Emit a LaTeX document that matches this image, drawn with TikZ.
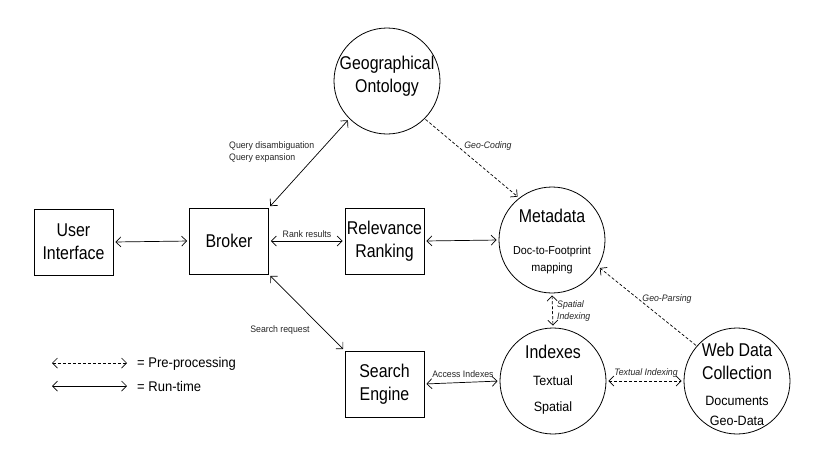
\documentclass[tikz,border=0pt]{standalone}
\usepackage{fontspec}
\setmainfont{Liberation Sans}
\newfontfamily\bigfam[FakeStretch=0.86]{Liberation Sans}
\newfontfamily\smallfam[FakeStretch=0.93]{Liberation Sans}
\usetikzlibrary{arrows.meta}
\begin{document}
\begin{tikzpicture}[x=1pt,y=-1pt,
  box/.style={draw, line width=0.8pt, minimum width=79pt, minimum height=66pt, inner sep=0pt, align=center, font=\bigfam\fontsize{18.5}{23}\selectfont},
  circ/.style={draw, line width=0.8pt, circle, minimum size=106pt, inner sep=0pt},
  big/.style={inner sep=0pt, align=center, font=\bigfam\fontsize{18.5}{23}\selectfont},
  mid/.style={inner sep=0pt, align=center, font=\smallfam\fontsize{13.5}{20}\selectfont},
  small/.style={inner sep=0pt, align=center, font=\smallfam\fontsize{11.6}{17}\selectfont},
  lab/.style={inner sep=0pt, font=\smallfam\fontsize{9.4}{12}\selectfont, text=black!85},
  ilab/.style={lab, font=\smallfam\fontsize{9.4}{12}\selectfont\itshape},
  run/.style={line width=0.7pt, {Straight Barb[length=5pt,width=10pt]}-{Straight Barb[length=5pt,width=10pt]}, shorten >=2pt, shorten <=2pt},
  pre/.style={run, dashed, dash pattern=on 3pt off 2pt},
  pre1/.style={line width=0.7pt, -{Straight Barb[length=5pt,width=10pt]}, dashed, dash pattern=on 3pt off 2pt, shorten >=2pt, shorten <=1pt},
]
\useasboundingbox (0,0) rectangle (822,467);

% boxes
\node[box] (ui) at (73.5,242) {User\\Interface};
\node[box] (broker) at (229,241) {Broker};
\node[box] (rank) at (384.5,241) {Relevance\\Ranking};
\node[box] (search) at (384.5,384) {Search\\Engine};

% circles
\node[circ] (onto) at (387,81) {};
\node[circ] (meta) at (552,240) {};
\node[circ] (idx) at (553,381) {};
\node[circ] (web) at (737,381) {};

% circle texts
\node[big] (ontot) at (387,76.5) {Geographical\\Ontology};
\node[big] (metat) at (552,216) {Metadata};
\node[small] (metas) at (552,259.5) {Doc-to-Footprint\\mapping};
\node[big] (idxt) at (553,352) {Indexes};
\node[mid] (idxs1) at (553,381) {Textual};
\node[mid] (idxs2) at (553,408) {Spatial};
\node[big] (webt) at (737,361.5) {Web Data\\Collection};
\node[mid] (webs) at (737,411) {Documents\\Geo-Data};

% run-time connectors
\draw[run] (ui.east) -- (broker.west);
\draw[run] (broker.east) -- (rank.west);
\draw[run] (rank.east) -- (meta.west);
\draw[run] (search.east) -- (idx.west);
\draw[run] (broker.north east) -- (onto.225);
\draw[run] (broker.south east) -- (search.north west);

% pre-processing connectors
\draw[pre1] (onto.-45) -- (meta.128);
\draw[pre1] (web.139) -- (meta.-30);
\draw[pre] (meta.south) -- (idx.north);
\draw[pre] (idx.east) -- (web.west);

% labels
\node[lab, anchor=west, align=left] (qlab) at (229,152) {Query disambiguation\\Query expansion};
\node[ilab] (gclab) at (488,146) {Geo-Coding};
\node[lab] (rrlab) at (307,234) {Rank results};
\node[lab] (srlab) at (280,330) {Search request};
\node[lab] (ailab) at (463,374.5) {Access Indexes};
\node[ilab, anchor=west, align=left] (silab) at (557,311) {Spatial\\Indexing};
\node[ilab] (gplab) at (667,299) {Geo-Parsing};
\node[ilab] (tilab) at (646,373) {Textual Indexing};

% legend
\coordinate (l1a) at (50,363);
\coordinate (l1b) at (129,363);
\coordinate (l2a) at (50,386);
\coordinate (l2b) at (129,386);
\draw[pre] (l1a) -- (l1b);
\draw[run] (l2a) -- (l2b);
\node[inner sep=0pt, anchor=west, font=\smallfam\fontsize{14}{16}\selectfont] (leg1) at (137,363.5) {= Pre-processing};
\node[inner sep=0pt, anchor=west, font=\smallfam\fontsize{14}{16}\selectfont] (leg2) at (137,386.5) {= Run-time};
\end{tikzpicture}
\end{document}
